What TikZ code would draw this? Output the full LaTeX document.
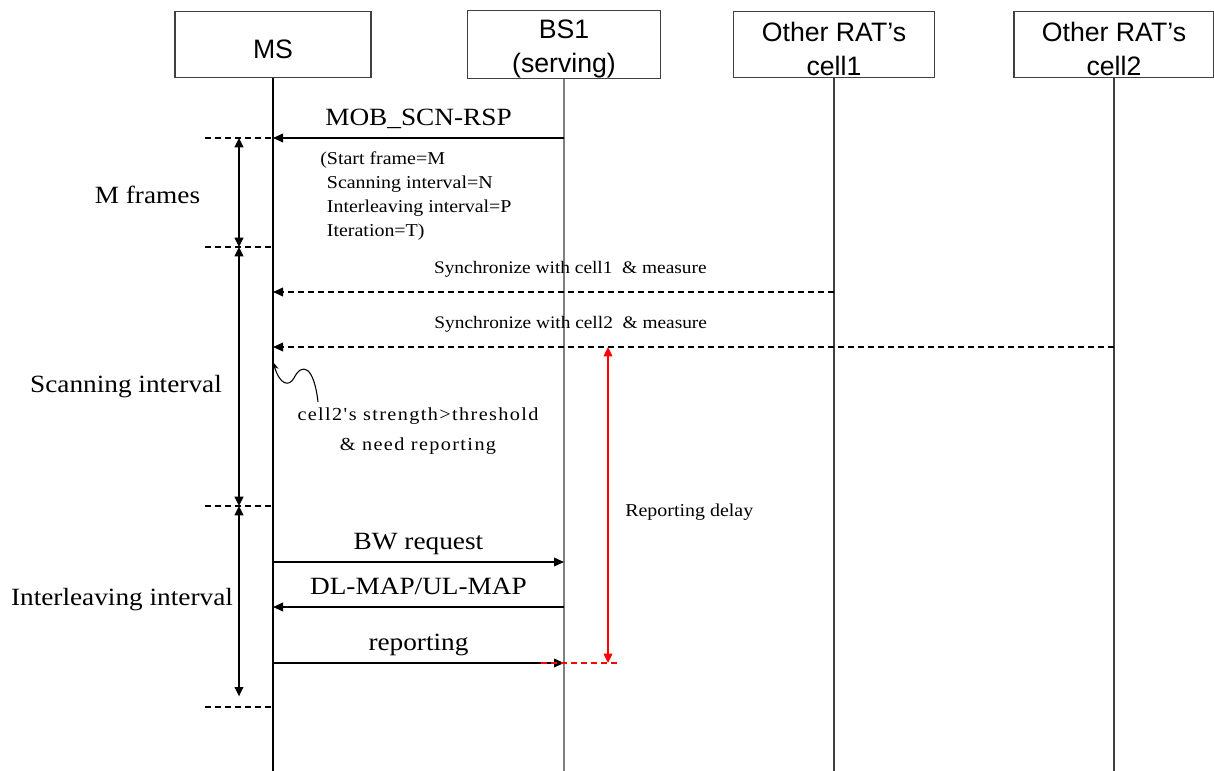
\documentclass[tikz,border=0pt]{standalone}
\usepackage{fontspec}
\setmainfont[FakeStretch=1.1]{Liberation Serif}
\setsansfont{Liberation Sans}
\newfontfamily\spacedserif[FakeStretch=1.1, LetterSpace=7.5]{Liberation Serif}
\usetikzlibrary{arrows.meta}

\newcommand{\headgap}{\rule{0pt}{21pt}}

\tikzstyle{entity} = [rectangle, draw=black!75, line width=0.9pt, fill=white, minimum height=50pt, inner sep=0pt, align=center, font=\sffamily\fontsize{20}{25.5}\selectfont]
\tikzstyle{lifeline} = [line width=1.1pt]
\tikzstyle{msg} = [draw, line width=1.1pt, -{Triangle[length=7.5pt, width=6.5pt]}]
\tikzstyle{sync} = [msg, dash pattern=on 4.5pt off 3pt]
\tikzstyle{msglabel} = [anchor=base, inner sep=0pt, yshift=9.5pt, font=\fontsize{18.6}{22}\selectfont]
\tikzstyle{synclabel} = [anchor=base, inner sep=0pt, yshift=14pt, font=\fontsize{13.2}{16}\selectfont]
\tikzstyle{note} = [inner sep=0pt, font=\fontsize{13.6}{18}\selectfont]
\tikzstyle{side} = [anchor=base, inner sep=0pt, font=\fontsize{18.6}{22}\selectfont]
\tikzstyle{tick} = [draw, line width=0.9pt, dash pattern=on 4.5pt off 3pt]
\tikzstyle{span} = [draw, line width=1.1pt, {Triangle[length=7pt, width=6.5pt]}-{Triangle[length=7pt, width=6.5pt]}]
\tikzstyle{delay} = [draw, red, line width=1pt, {Triangle[length=7pt, width=6.5pt]}-{Triangle[length=7pt, width=6.5pt]}]

\begin{document}
\begin{tikzpicture}[x=0.75pt, y=-0.75pt]
  \useasboundingbox (0,0) rectangle (1214,771);

  % heads
  \node[entity, minimum width=147pt] (ms) at (273,44.5) {\headgap MS};
  \node[entity, minimum width=145pt] (bs) at (564,44.5) {\headgap BS1\\(serving)};
  \node[entity, minimum width=151pt] (cellA) at (834,44.5) {\headgap Other RAT's\\cell1};
  \node[entity, minimum width=150pt] (cellB) at (1114,44.5) {\headgap Other RAT's\\cell2};

  % lifelines
  \draw[lifeline] (ms.south) -- (ms |- 0,771);
  \draw[lifeline, black!50] (bs.south) -- (bs |- 0,771);
  \draw[lifeline, black!75] (cellA.south) -- (cellA |- 0,771);
  \draw[lifeline, black!75] (cellB.south) -- (cellB |- 0,771);

  % frame boundaries on the left
  \foreach \y/\n in {138/a, 247/b, 506/c, 707/d} {
    \coordinate (t\n) at (239,\y);
    \path[tick] (205,\y) -- (ms |- 0,\y);
  }
  \path[span] (ta) -- (tb);
  \path[span] (tb) -- (tc);
  \path[span] (tc) -- ([yshift=8pt]td);

  \node[side] (mframes) at (147.5,203) {M frames};
  \node[side] (scanning) at (126,392) {Scanning interval};
  \node[side] (interleaving) at (122,605) {Interleaving interval};

  % scan response
  \path[msg] (bs |- 0,138) -- node[msglabel] {MOB\_SCN-RSP} (ms |- 0,138);
  \node[note, anchor=north west, align=left] (params) at (320,151)
    {(Start frame=M\\\hphantom{(}Scanning interval=N\\\hphantom{(}Interleaving interval=P\\\hphantom{(}Iteration=T)};

  % measurements
  \path[sync] (cellA |- 0,292) -- node[synclabel, pos=.47] {Synchronize with cell1~ \& measure} (ms |- 0,292);
  \path[sync] (cellB |- 0,347) -- node[synclabel, pos=.646] {Synchronize with cell2~ \& measure} (ms |- 0,347);

  \coordinate (hit) at (ms |- 0,362);
  \node[note, align=center, font=\spacedserif\fontsize{13.8}{22.5}\selectfont] (need) at (418,431)
    {cell2's strength>threshold\\\& need reporting};
  \draw[line width=0.8pt, -{Stealth[length=6pt, width=5pt]}] (318,402) .. controls (314,366) and (302,362) .. (294,378)
    .. controls (289,387) and (280,385) .. (hit);

  % reporting
  \path[msg] (ms |- 0,562) -- node[msglabel] {BW request} (bs |- 0,562);
  \path[msg] (bs |- 0,607) -- node[msglabel] {DL-MAP/UL-MAP} (ms |- 0,607);
  \path[msg] (ms |- 0,663) -- node[msglabel] {reporting} (bs |- 0,663);

  % delay
  \coordinate (dtop) at (608,347);
  \coordinate (dbot) at (608,663);
  \path[delay] (dtop) -- (dbot);
  \draw[red, line width=1pt, dash pattern=on 4.5pt off 3pt] (541,663) -- (621,663);
  \node[note, anchor=base west] (delaytxt) at (625,516) {Reporting delay};

\end{tikzpicture}
\end{document}
